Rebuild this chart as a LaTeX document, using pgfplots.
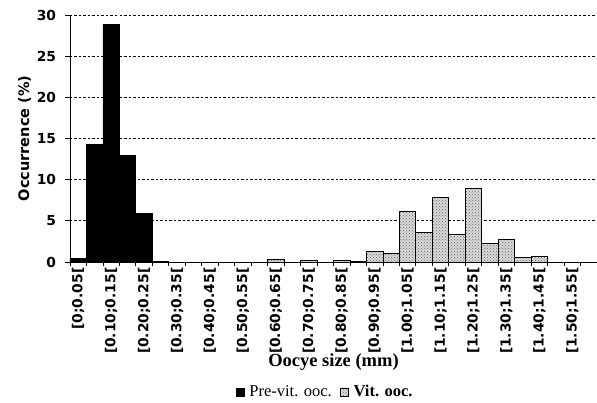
\documentclass[border=0pt]{standalone}
\usepackage{pgfplots}
\pgfplotsset{compat=1.18}
\usepackage{fontspec}
\setmainfont{Liberation Serif}
\newfontfamily\dvs{DejaVu Sans}
\usetikzlibrary{patterns}

\begin{document}
\begin{tikzpicture}
\begin{axis}[
  name=ax,
  width=527pt, height=247pt, scale only axis,
  xmin=-0.5, xmax=31.5, ymin=0, ymax=30,
  axis x line*=bottom, axis y line*=left,
  axis line style={line width=0.9pt, -},
  ybar, bar width=1, bar shift=0pt,
  tick align=outside, major tick length=4.5pt,
  tick style={black, line width=0.8pt},
  xtick={-0.5,0.5,...,31.5},
  x tick label as interval,
  xticklabels={{[0;0.05[},{},{[0.10;0.15[},{},{[0.20;0.25[},{},{[0.30;0.35[},{},
    {[0.40;0.45[},{},{[0.50;0.55[},{},{[0.60;0.65[},{},{[0.70;0.75[},{},
    {[0.80;0.85[},{},{[0.90;0.95[},{},{[1.00;1.05[},{},{[1.10;1.15[},{},
    {[1.20;1.25[},{},{[1.30;1.35[},{},{[1.40;1.45[},{},{[1.50;1.55[},{}},
  xticklabel style={rotate=90, anchor=east, inner sep=1pt},
  yticklabel style={xshift=-6pt},
  ytick={0,5,...,30},
  ymajorgrids,
  grid style={black, line width=0.8pt, dash pattern=on 2.5pt off 2pt},
  /pgf/number format/assume math mode=true,
  tick label style={font=\dvs\bfseries\fontsize{13.8}{14}\selectfont},
  ylabel={Occurrence (\%)},
  ylabel style={at={(axis description cs:-0.0863,0.5)}, anchor=center,
    font=\dvs\bfseries\fontsize{14.5}{16}\selectfont},
  xlabel={Oocye size (mm)},
  xlabel style={at={(axis description cs:0.5,-0.405)}, anchor=center,
    font=\bfseries\fontsize{18.5}{20}\selectfont},
  legend columns=2,
  legend style={at={(0.484,-0.526)}, anchor=center, draw=none,
    font=\fontsize{16.5}{18}\selectfont,
    /tikz/every even column/.append style={column sep=6pt}},
  legend image code/.code={\draw[#1, line width=0.6pt] (0pt,-4pt) rectangle (8pt,4pt);
    \node[inner sep=0pt] at (11pt,0pt) {};},
]
% pre-vitellogenic oocytes
\addplot[draw=black, fill=black, line width=0.8pt] coordinates {
  (0,0.4) (1,14.3) (2,28.8) (3,12.9) (4,5.95) (5,0.1)
};
% vitellogenic oocytes
\addplot[draw=black, fill=black!15, line width=0.8pt,
  postaction={pattern=crosshatch dots, pattern color=black!60}] coordinates {
  (12,0.3) (14,0.25) (16,0.2) (17,0.1) (18,1.25) (19,1.0) (20,6.1)
  (21,3.6) (22,7.8) (23,3.3) (24,8.9) (25,2.2) (26,2.75) (27,0.6) (28,0.7)
};
\legend{Pre-vit. ooc., \textbf{Vit. ooc.}}
\end{axis}
\pgfresetboundingbox
\path[use as bounding box] ([xshift=-70pt,yshift=-141pt]ax.south west) rectangle ([yshift=15pt]ax.north east);
\end{tikzpicture}
\end{document}
